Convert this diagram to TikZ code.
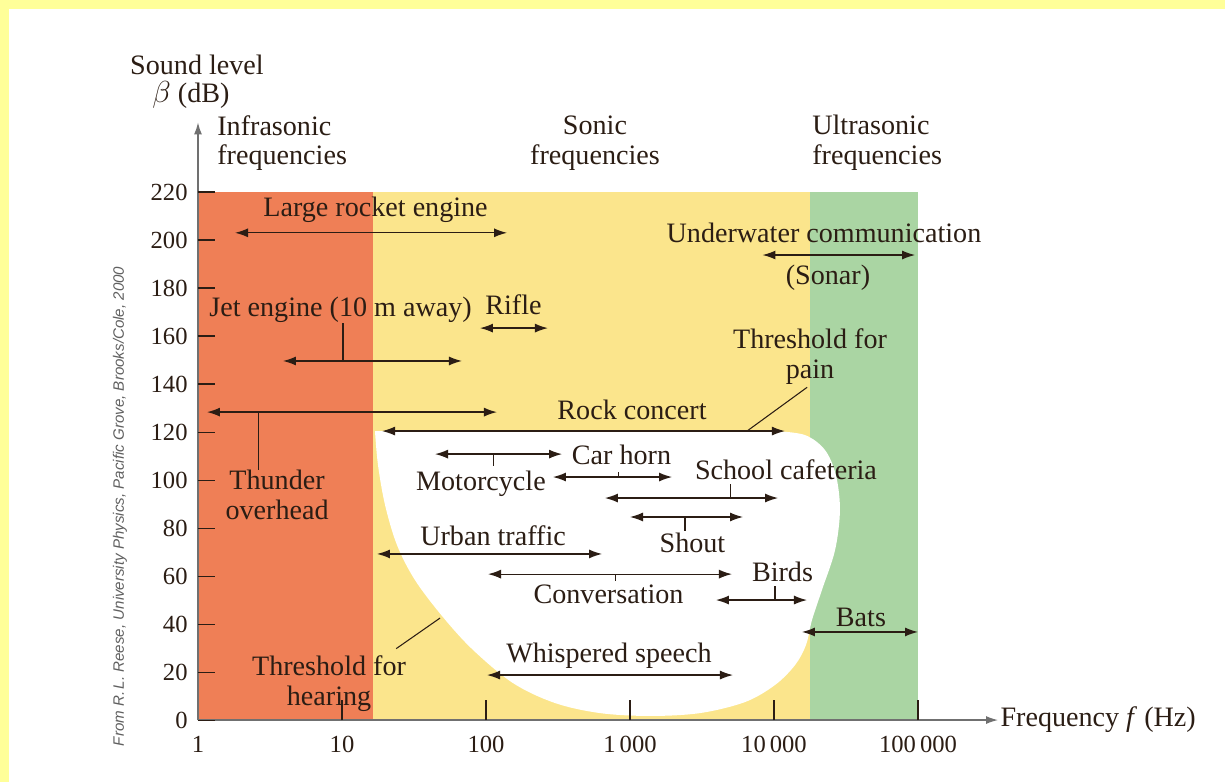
\documentclass[tikz,border=0pt]{standalone}
\usepackage{fontspec}
\setmainfont{Liberation Serif}
\newfontfamily\creditfont{Liberation Sans}
\usepackage{xcolor}
\usetikzlibrary{arrows.meta,positioning,calc}
\definecolor{framec}{HTML}{FFFF99}
\definecolor{infrac}{HTML}{EF7F56}
\definecolor{sonicc}{HTML}{FBE58C}
\definecolor{ultrac}{HTML}{AAD5A3}
\definecolor{inkc}{HTML}{2B1D14}
\definecolor{axisc}{HTML}{707070}

\begin{document}
\begin{tikzpicture}[x=2.88cm, y=0.048cm,
  font=\fontsize{16}{17}\selectfont, text=inkc,
  lbl/.style={inner sep=0pt, align=center},
  rng/.style={{Latex[length=2.6mm,width=1.8mm]}-{Latex[length=2.6mm,width=1.8mm]},
              line width=0.7pt, draw=inkc},
  lead/.style={line width=0.6pt, draw=inkc},
  ax/.style={line width=0.8pt, draw=axisc},
  tickl/.style={font=\fontsize{14}{15}\selectfont, inner sep=0pt}]
% frame
\fill[framec] (-1.375,-25.83) rectangle (7.132,300);
\fill[white] (-1.3125,-25.83) rectangle (7.132,296.25);
\useasboundingbox (-1.375,-25.83) rectangle (7.132,300);
% frequency bands
\fill[infrac] (0,0) rectangle (1.215,220);
\fill[sonicc] (1.215,0) rectangle (4.25,220);
\fill[ultrac] (4.25,0) rectangle (5,220);
% audible region
\fill[white] plot[smooth, tension=0.55] coordinates {(4.007,120.4) (4.215,118.75)
  (4.354,112.5) (4.43,102) (4.458,87.5) (4.424,70.8) (4.333,54.2) (4.264,41.7)
  (4.222,31.25) (4.146,22.9) (4.007,14.6) (3.799,7.5) (3.486,2.9) (3.139,1.7)
  (2.792,2.9) (2.479,7.1) (2.1875,15.4) (1.910,29.2) (1.701,42.9) (1.507,58.3)
  (1.382,72.9) (1.299,89.6) (1.25,106.25) (1.229,120.4)} -- cycle;
% axes
\draw[ax, -{Latex[length=2.4mm,width=1.6mm]}] (0,0) -- (0,249);
\draw[ax, -{Latex[length=2.4mm,width=1.6mm]}] (0,0) -- (5.556,0)
  node[right=1pt, inner sep=0pt] (fax) {Frequency \textit{f} (Hz)};
\foreach \v in {0,20,...,220} {
  \draw[lead] (0,\v) -- (0.118,\v);
  \node[tickl, anchor=east] (yl\v) at (-0.07,\v) {\v};
}
\node[tickl] (xl0) at (0,-10) {1};
\foreach \e/\t in {1/10, 2/100, 3/{1\,000}, 4/{10\,000}, 5/{100\,000}} {
  \draw[lead] (\e,0) -- (\e,8.3);
  \node[tickl] (xl\e) at (\e,-10) {\t};
}
\node[lbl] (sound) at (-0.007,272.9) {Sound level};
\node[lbl] (beta) at (-0.049,260.4) {$\beta$ (dB)};
\node[lbl, align=left, anchor=west] (infra) at (0.132,240.4) {Infrasonic\\frequencies};
\node[lbl] (sonic) at (2.757,240.4) {Sonic\\frequencies};
\node[lbl, align=left, anchor=west] (ultra) at (4.264,240.4) {Ultrasonic\\frequencies};
\node[rotate=90, inner sep=0pt, text=gray!75!black,
      font=\creditfont\itshape\fontsize{8.6}{10}\selectfont] (credit) at (-0.542,89)
  {From R.\,L. Reese, University Physics, Pacific Grove, Brooks/Cole, 2000};
% sources
\coordinate (rocketL) at (0.257,203);  \coordinate (rocketR) at (2.146,203);
\draw[rng] (rocketL) -- (rocketR);
\node[lbl] (rocket) at (1.233,212.5) {Large rocket engine};
\coordinate (sonarL) at (3.92,193.75);  \coordinate (sonarR) at (4.98,193.75);
\draw[rng] (sonarL) -- (sonarR);
\node[lbl] (under) at (4.347,202.9) {Underwater communication};
\node[lbl] (sonar) at (4.375,184.2) {(Sonar)};
\coordinate (jetL) at (0.59,149.6);  \coordinate (jetR) at (1.833,149.6);
\coordinate (jetT) at (1.007,149.6);
\draw[rng] (jetL) -- (jetR);
\node[lbl] (jet) at (0.99,170.8) {Jet engine (10 m away)};
\draw[lead] (jet.south -| jetT) -- (jetT);
\coordinate (rifleL) at (1.958,163.3);  \coordinate (rifleR) at (2.43,163.3);
\draw[rng] (rifleL) -- (rifleR);
\node[lbl] (rifle) at (2.191,172.9) {Rifle};
\node[lbl] (pain) at (4.25,151.25) {Threshold for\\pain};
\coordinate (thunL) at (0.0625,128.3);  \coordinate (thunR) at (2.076,128.3);
\coordinate (thunT) at (0.417,128.3);
\draw[rng] (thunL) -- (thunR);
\node[lbl] (thunder) at (0.549,93.75) {Thunder\\overhead};
\draw[lead] (thunT) -- (thunder.north -| thunT);
\coordinate (rockL) at (1.278,120.4);  \coordinate (rockR) at (4.076,120.4);
\coordinate (painB) at (3.8125,120.4);
\draw[rng] (rockL) -- (rockR);
\node[lbl] (rock) at (3.014,129.2) {Rock concert};
\draw[lead, shorten <=2pt] (pain.south) -- (painB);
\coordinate (motoL) at (1.646,110.8);  \coordinate (motoR) at (2.528,110.8);
\coordinate (motoT) at (2.049,110.8);
\draw[rng] (motoL) -- (motoR);
\node[lbl] (moto) at (1.965,98.3) {Motorcycle};
\draw[lead, shorten >=3pt] (motoT) -- (moto.north -| motoT);
\coordinate (hornL) at (2.465,101.25);  \coordinate (hornR) at (3.292,101.25);
\coordinate (hornT) at (2.917,101.25);
\draw[rng] (hornL) -- (hornR);
\node[lbl] (horn) at (2.941,110.4) {Car horn};
\draw[lead, shorten >=4pt] (hornT) -- (horn.south -| hornT);
\coordinate (cafeL) at (2.826,92.5);  \coordinate (cafeR) at (4.028,92.5);
\coordinate (cafeT) at (3.70,92.5);
\draw[rng] (cafeL) -- (cafeR);
\node[lbl] (cafe) at (4.083,104.2) {School cafeteria};
\draw[lead, shorten >=2pt] (cafeT) -- (cafe.south -| cafeT);
\coordinate (shoutL) at (3.0,84.6);  \coordinate (shoutR) at (3.785,84.6);
\coordinate (shoutT) at (3.382,84.6);
\draw[rng] (shoutL) -- (shoutR);
\node[lbl] (shout) at (3.434,73.75) {Shout};
\draw[lead, shorten >=1pt] (shoutT) -- (shout.north -| shoutT);
\coordinate (urbanL) at (1.243,69.2);  \coordinate (urbanR) at (2.806,69.2);
\draw[rng] (urbanL) -- (urbanR);
\node[lbl] (urban) at (2.049,76.7) {Urban traffic};
\coordinate (convL) at (2.014,60.8);  \coordinate (convR) at (3.708,60.8);
\coordinate (convT) at (2.896,60.8);
\draw[rng] (convL) -- (convR);
\node[lbl] (conv) at (2.851,52.5) {Conversation};
\draw[lead, shorten >=2pt] (convT) -- (conv.north -| convT);
\coordinate (birdsL) at (3.597,50);  \coordinate (birdsR) at (4.229,50);
\coordinate (birdsT) at (4.007,50);
\draw[rng] (birdsL) -- (birdsR);
\node[lbl] (birds) at (4.059,61.7) {Birds};
\draw[lead, shorten >=2pt] (birdsT) -- (birds.south -| birdsT);
\coordinate (batsL) at (4.194,36.7);  \coordinate (batsR) at (5.0,36.7);
\draw[rng] (batsL) -- (batsR);
\node[lbl] (bats) at (4.604,42.9) {Bats};
\coordinate (whisL) at (2.007,18.75);  \coordinate (whisR) at (3.715,18.75);
\draw[rng] (whisL) -- (whisR);
\node[lbl] (whis) at (2.854,26.7) {Whispered speech};
\node[lbl] (hear) at (0.91,15) {Threshold for\\hearing};
\coordinate (hearB) at (1.681,42.5);
\draw[lead] ($(hear.north east)+(-0.07,3)$) -- (hearB);
\end{tikzpicture}
\end{document}
